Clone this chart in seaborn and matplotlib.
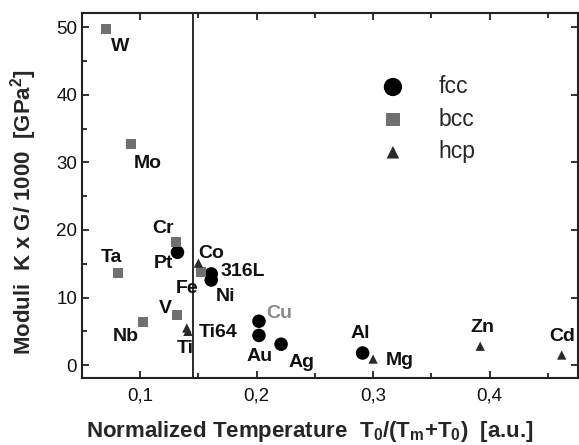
import matplotlib
matplotlib.use("Agg")
import matplotlib.pyplot as plt
import seaborn as sns
import pandas as pd

# ---- data ----
names = ["W", "Mo", "Cr", "Pt", "Ta", "Co", "Fe", "316L", "Ni", "V", "Nb",
         "Ti64", "Ti", "Cu", "Au", "Ag", "Al", "Mg", "Zn", "Cd"]
structure = ["bcc", "bcc", "bcc", "fcc", "bcc", "hcp", "bcc", "fcc", "fcc", "bcc", "bcc",
             "hcp", "hcp", "fcc", "fcc", "fcc", "fcc", "hcp", "hcp", "hcp"]
norm_temp = [0.071, 0.092, 0.131, 0.132, 0.081, 0.150, 0.152, 0.161, 0.161, 0.132, 0.102,
             0.140, 0.141, 0.202, 0.202, 0.221, 0.291, 0.300, 0.392, 0.462]
moduli = [49.7, 32.7, 18.2, 16.7, 13.6, 15.1, 13.8, 13.5, 12.6, 7.4, 6.4,
          5.5, 5.0, 6.5, 4.4, 3.1, 1.8, 0.9, 2.8, 1.5]
x_ticks = [0.1, 0.2, 0.3, 0.4]
x_tick_labels = ["0,1", "0,2", "0,3", "0,4"]
y_ticks = [0, 10, 20, 30, 40, 50]
boundary_temp = 0.145

# ---- layout (label offsets in pixels) ----
label_offsets = {
    "W": (14, -17), "Mo": (17, -19), "Cr": (-13, 14), "Pt": (-14, -11),
    "Ta": (-7, 16), "Co": (13, 10), "Fe": (-14, -17), "316L": (32, 2),
    "Ni": (14, -17), "V": (-12, 7), "Nb": (-17, -15), "Ti64": (31, -5),
    "Ti": (-3, -17), "Cu": (20, 8), "Au": (1, -21), "Ag": (20, -18),
    "Al": (-2, 19), "Mg": (27, -1), "Zn": (2, 19), "Cd": (0, 19),
}

df = pd.DataFrame({"name": names, "structure": structure,
                   "T": norm_temp, "M": moduli})

sns.set_style("ticks")
plt.rcParams["font.family"] = ["Liberation Sans", "DejaVu Sans"]
plt.rcParams["mathtext.fontset"] = "custom"
plt.rcParams["mathtext.rm"] = "Liberation Sans"
plt.rcParams["mathtext.bf"] = "Liberation Sans:bold"

fig = plt.figure(figsize=(5.79, 4.45), dpi=100)
ax = fig.add_axes([82 / 579, 67 / 445, (578 - 82) / 579, (378 - 13) / 445])

styles = {
    "fcc": dict(marker="o", color="#000000", s=95),
    "bcc": dict(marker="s", color="#707070", s=52),
    "hcp": dict(marker="^", color="#2a2a2a", s=45),
}
for st in ["fcc", "bcc", "hcp"]:
    sub = df[df["structure"] == st]
    sns.scatterplot(data=sub, x="T", y="M", ax=ax, marker=styles[st]["marker"],
                    color=styles[st]["color"], s=styles[st]["s"],
                    edgecolor="none", linewidth=0, label=st, zorder=3)

ax.axvline(boundary_temp, color="#1a1a1a", lw=1.3, zorder=2)

for n, x, y in zip(names, norm_temp, moduli):
    dx, dy = label_offsets[n]
    ax.annotate(n, (x, y), xytext=(dx, dy), textcoords="offset pixels",
                ha="center", va="center", fontsize=14, fontweight="bold",
                color="#8a8a8a" if n == "Cu" else "#111111", zorder=4)

ax.set_xlim(0.06, 0.476)
ax.set_ylim(-1.9, 52.1)
ax.set_xticks(x_ticks)
ax.set_xticklabels(x_tick_labels)
ax.set_xticks([0.05, 0.15, 0.25, 0.35, 0.45], minor=True)
ax.set_yticks(y_ticks)
ax.set_yticks([5, 15, 25, 35, 45], minor=True)
ax.tick_params(which="both", direction="in", top=True, right=True, labelsize=13.5,
               width=1.3, color="#222222", labelcolor="#111111")
ax.tick_params(which="major", length=5)
ax.tick_params(which="minor", length=3.5)
ax.tick_params(axis="y", which="minor", right=False)
ax.tick_params(axis="x", pad=7)
for sp in ax.spines.values():
    sp.set_linewidth(1.5)
    sp.set_color("#222222")

ax.set_xlabel(r"Normalized Temperature  T$_\mathbf{0}$/(T$_\mathbf{m}$+T$_\mathbf{0}$)  [a.u.]",
              fontsize=16, fontweight="bold")
ax.xaxis.set_label_coords((310 - 82) / 496, (378 - 432) / 365)
ax.set_ylabel(r"Moduli  K x G/ 1000  [GPa$^\mathbf{2}$]", fontsize=16,
              fontweight="bold")
ax.yaxis.set_label_coords((24 - 82) / 496, (378 - 212) / 365)
ax.xaxis.label.set_va("center")
ax.yaxis.label.set_va("center")

leg = ax.legend(loc="upper left", bbox_to_anchor=(370 / 579, 1 - 75 / 445),
                bbox_transform=fig.transFigure, frameon=False, fontsize=16.5,
                handletextpad=1.0, labelspacing=0.42, markerscale=1.35,
                borderaxespad=0, borderpad=0)

fig.savefig("out.png", dpi=100)
